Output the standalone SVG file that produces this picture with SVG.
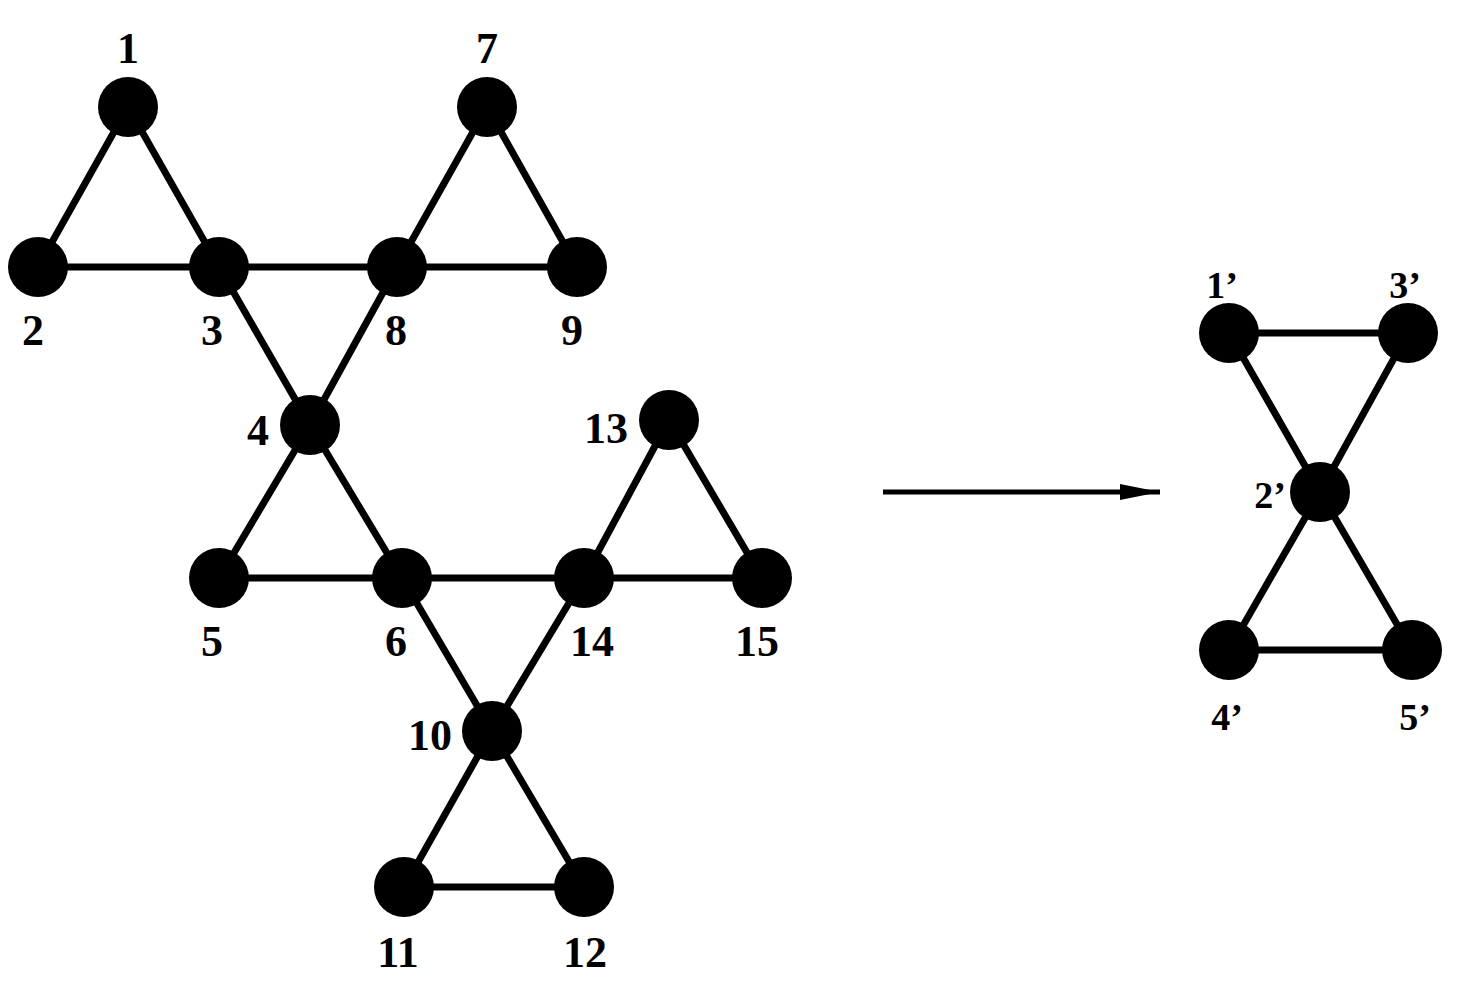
<svg xmlns="http://www.w3.org/2000/svg" width="1458" height="985" viewBox="0 0 1458 985">
<style>
.n{fill:#000}
.e{stroke:#000;stroke-width:7;fill:none}
text{font-family:"Liberation Serif",serif;font-weight:bold;font-size:44px;text-anchor:middle;fill:#000}
.s{font-size:38px}
</style>
<defs><marker id="a" markerWidth="40" markerHeight="20" refX="40" refY="10" orient="auto" markerUnits="userSpaceOnUse"><path d="M0,2 L40,10 L0,18 Z" fill="#000"/></marker></defs>
<rect width="1458" height="985" fill="#fff"/>
<g id="connectors">
<path class="e" d="M128,107 L38,267 L219,267 Z M487,107 L397,267 L577,267 Z M219,267 L397,267 M219,267 L310,425 L397,267 M310,425 L219,578 L402,578 Z M402,578 L584,578 M669,420 L584,578 L762,578 Z M402,578 L492,731 L584,578 M492,731 L404,887 L584,887 Z"/>
<path class="e" d="M1229,333 L1408,333 L1320,492 Z M1320,492 L1229,650 L1412,650 Z"/>
<line class="e" x1="883" y1="492" x2="1160" y2="492" marker-end="url(#a)" style="stroke-width:5"/>
</g>
<g id="n1"><circle class="n" cx="128" cy="107" r="30"/><text x="128" y="63">1</text></g>
<g id="n2"><circle class="n" cx="38" cy="267" r="30"/><text x="33" y="345">2</text></g>
<g id="n3"><circle class="n" cx="219" cy="267" r="30"/><text x="212" y="345">3</text></g>
<g id="n7"><circle class="n" cx="487" cy="107" r="30"/><text x="487" y="63">7</text></g>
<g id="n8"><circle class="n" cx="397" cy="267" r="30"/><text x="396" y="345">8</text></g>
<g id="n9"><circle class="n" cx="577" cy="267" r="30"/><text x="572" y="345">9</text></g>
<g id="n4"><circle class="n" cx="310" cy="425" r="30"/><text x="258" y="445">4</text></g>
<g id="n13"><circle class="n" cx="669" cy="420" r="30"/><text x="606" y="443">13</text></g>
<g id="n5"><circle class="n" cx="219" cy="578" r="30"/><text x="212" y="656">5</text></g>
<g id="n6"><circle class="n" cx="402" cy="578" r="30"/><text x="396" y="656">6</text></g>
<g id="n14"><circle class="n" cx="584" cy="578" r="30"/><text x="592" y="656">14</text></g>
<g id="n15"><circle class="n" cx="762" cy="578" r="30"/><text x="757" y="656">15</text></g>
<g id="n10"><circle class="n" cx="492" cy="731" r="30"/><text x="430" y="750">10</text></g>
<g id="n11"><circle class="n" cx="404" cy="887" r="30"/><text x="398" y="967">11</text></g>
<g id="n12"><circle class="n" cx="584" cy="887" r="30"/><text x="585" y="967">12</text></g>
<g id="p1"><circle class="n" cx="1229" cy="333" r="30"/><text class="s" x="1222" y="298">1’</text></g>
<g id="p3"><circle class="n" cx="1408" cy="333" r="30"/><text class="s" x="1405" y="298">3’</text></g>
<g id="p2"><circle class="n" cx="1320" cy="492" r="30"/><text class="s" x="1270" y="508">2’</text></g>
<g id="p4"><circle class="n" cx="1229" cy="650" r="30"/><text class="s" x="1227" y="730">4’</text></g>
<g id="p5"><circle class="n" cx="1412" cy="650" r="30"/><text class="s" x="1415" y="730">5’</text></g>
</svg>
